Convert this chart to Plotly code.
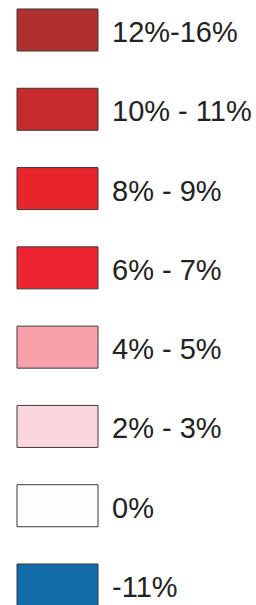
import plotly.graph_objects as go

labels = ["12%-16%", "10% - 11%", "8% - 9%", "6% - 7%", "4% - 5%", "2% - 3%", "0%", "-11%"]
colors = ["#B0302F", "#C72B2B", "#E8252B", "#EF2431", "#F8A1AB", "#FBD6DC", "#FDFDFD", "#116CA9"]
swatch = [1] * len(labels)

fig = go.Figure()
fig.add_trace(go.Bar(
    y=labels, x=swatch, base=0, orientation="h", width=0.53,
    marker=dict(color=colors, line=dict(color="#3a3a3a", width=1)),
    hoverinfo="skip", showlegend=False,
))
for lab in labels:
    fig.add_annotation(
        x=1.185, y=lab, text=lab, showarrow=False, xanchor="left", yanchor="middle",
        xshift=-2, yshift=-2, borderpad=0,
        font=dict(family="Liberation Sans, Arial, sans-serif", size=29, color="#222222"),
    )
fig.update_layout(
    width=256, height=605, margin=dict(l=0, r=0, t=0, b=0),
    paper_bgcolor="white", plot_bgcolor="white",
    xaxis=dict(visible=False, range=[-17/81, 239/81], fixedrange=True),
    yaxis=dict(visible=False, type="category", categoryorder="array", categoryarray=labels,
               range=[7 + 20/79.29, -30/79.29], fixedrange=True),
)
fig.write_html("out.html", config={"displayModeBar": False},
               post_script="document.body.style.margin='0';document.body.style.overflow='hidden';")
